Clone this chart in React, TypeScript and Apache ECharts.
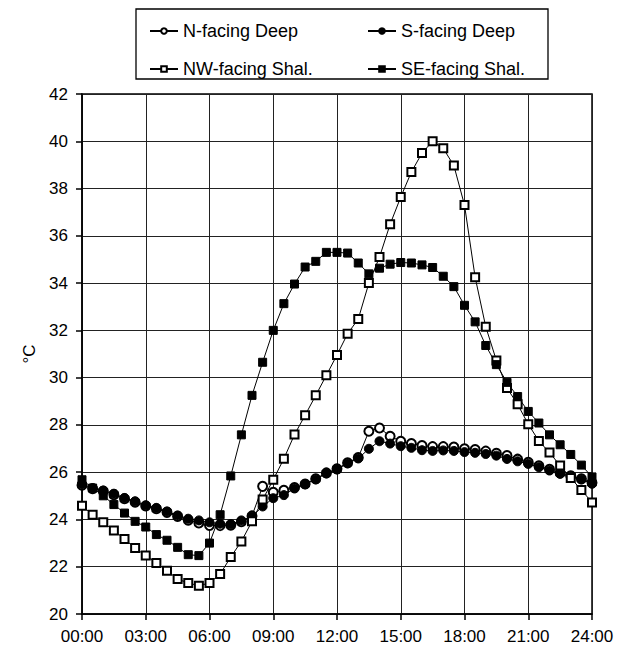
import React, { useEffect, useRef } from "react";
import * as echarts from "echarts";

const times = [
  "00:00", "00:30", "01:00", "01:30", "02:00", "02:30", "03:00", "03:30",
  "04:00", "04:30", "05:00", "05:30", "06:00", "06:30", "07:00", "07:30",
  "08:00", "08:30", "09:00", "09:30", "10:00", "10:30", "11:00", "11:30",
  "12:00", "12:30", "13:00", "13:30", "14:00", "14:30", "15:00", "15:30",
  "16:00", "16:30", "17:00", "17:30", "18:00", "18:30", "19:00", "19:30",
  "20:00", "20:30", "21:00", "21:30", "22:00", "22:30", "23:00", "23:30",
  "24:00",
];

const nDeep = [
  25.45, 25.3, 25.2, 25.05, 24.88, 24.73, 24.57, 24.45, 24.3, 24.13,
  23.97, 23.85, 23.75, 23.74, 23.76, 23.9, 24.15, 25.4, 25.15, 25.23,
  25.35, 25.5, 25.72, 25.97, 26.14, 26.4, 26.62, 27.73, 27.87, 27.52,
  27.31, 27.21, 27.13, 27.08, 27.08, 27.06, 26.99, 26.96, 26.89, 26.8,
  26.7, 26.55, 26.42, 26.27, 26.12, 25.97, 25.85, 25.72, 25.55,
];

const sDeep = [
  25.5, 25.33, 25.22, 25.09, 24.91, 24.77, 24.6, 24.49, 24.34, 24.17,
  24.03, 23.96, 23.88, 23.82, 23.8, 23.96, 24.13, 24.55, 24.9, 25.03,
  25.31, 25.49, 25.69, 25.95, 26.12, 26.37, 26.58, 26.99, 27.31, 27.21,
  27.1, 27.03, 26.93, 26.9, 26.92, 26.9, 26.85, 26.82, 26.77, 26.7,
  26.56, 26.46, 26.35, 26.21, 26.07, 25.93, 25.82, 25.69, 25.51,
];

const nwShal = [
  24.58, 24.2, 23.88, 23.53, 23.17, 22.79, 22.47, 22.16, 21.83, 21.48,
  21.31, 21.2, 21.31, 21.69, 22.41, 23.07, 23.92, 24.84, 25.68, 26.57,
  27.59, 28.41, 29.25, 30.1, 30.96, 31.86, 32.48, 34.0, 35.1, 36.49,
  37.64, 38.7, 39.5, 40.0, 39.7, 38.97, 37.3, 34.25, 32.15, 30.73,
  29.56, 28.87, 28.03, 27.32, 26.83, 26.28, 25.75, 25.25, 24.72,
];

const seShal = [
  25.68, 25.33, 25.0, 24.63, 24.27, 23.92, 23.68, 23.36, 23.12, 22.82,
  22.51, 22.47, 23.0, 24.2, 25.84, 27.58, 29.25, 30.65, 32.0, 33.13,
  33.96, 34.68, 34.92, 35.3, 35.3, 35.27, 34.85, 34.39, 34.63, 34.8,
  34.87, 34.85, 34.77, 34.66, 34.29, 33.85, 33.06, 32.36, 31.36, 30.55,
  29.8, 29.2, 28.57, 28.08, 27.58, 27.16, 26.75, 26.3, 25.8,
];

const FONT = "Liberation Sans, Arial, sans-serif";

export default function App() {
  const ref = useRef<HTMLDivElement>(null);

  useEffect(() => {
    if (!ref.current) return;
    const chart = echarts.init(ref.current, undefined, { renderer: "svg" });

    const legendBase = {
      orient: "vertical" as const,
      top: 17,
      itemGap: 20,
      itemWidth: 28,
      itemHeight: 7,
      textStyle: { fontSize: 18, color: "#000", fontFamily: FONT },
    };

    const mk = (name: string, data: number[], symbol: string, size: number) => ({
      name,
      type: "line",
      data,
      symbol,
      symbolSize: size,
      showAllSymbol: true,
      lineStyle: { color: "#000", width: 1 },
      itemStyle: { color: "#000", borderColor: "#000", borderWidth: 1 },
    });

    chart.setOption({
      animation: false,
      backgroundColor: "#fff",
      textStyle: { fontFamily: FONT },
      legend: [
        { ...legendBase, left: 144, data: ["N-facing Deep", "NW-facing Shal."] },
        { ...legendBase, left: 362, data: ["S-facing Deep", "SE-facing Shal."] },
      ],
      graphic: [
        {
          type: "rect",
          shape: { x: 136, y: 9, width: 412, height: 70 },
          style: { fill: "none", stroke: "#000", lineWidth: 1.3 },
        },
      ],
      grid: {
        left: 82,
        right: 26,
        top: 94,
        bottom: 41,
        show: true,
        borderColor: "#000",
        borderWidth: 1.5,
      },
      xAxis: {
        type: "category",
        data: times,
        boundaryGap: false,
        axisLine: { lineStyle: { color: "#000", width: 1.5 } },
        axisTick: { interval: 5, length: 6, lineStyle: { color: "#000", width: 1.5 } },
        axisLabel: { interval: 5, margin: 14, fontSize: 17, color: "#000", fontFamily: FONT },
        splitLine: { show: true, interval: 5, lineStyle: { color: "#222", width: 1 } },
      },
      yAxis: {
        type: "value",
        min: 20,
        max: 42,
        interval: 2,
        name: "°C",
        nameLocation: "middle",
        nameGap: 42,
        nameRotate: 90,
        nameTextStyle: { fontSize: 17, color: "#000", fontFamily: FONT },
        axisLine: { show: true, lineStyle: { color: "#000", width: 1.5 } },
        axisTick: { show: true, length: 6, lineStyle: { color: "#000", width: 1.5 } },
        axisLabel: { margin: 14, fontSize: 17, color: "#000", fontFamily: FONT },
        splitLine: { show: true, lineStyle: { color: "#222", width: 1 } },
      },
      series: [
        mk("N-facing Deep", nDeep, "emptyCircle", 9),
        mk("S-facing Deep", sDeep, "circle", 9),
        mk("NW-facing Shal.", nwShal, "emptyRect", 8),
        mk("SE-facing Shal.", seShal, "rect", 8),
      ],
    });

    return () => chart.dispose();
  }, []);

  return (
    <div
      ref={ref}
      style={{ position: "fixed", left: 0, top: 0, width: 618, height: 655, background: "#fff" }}
    />
  );
}
